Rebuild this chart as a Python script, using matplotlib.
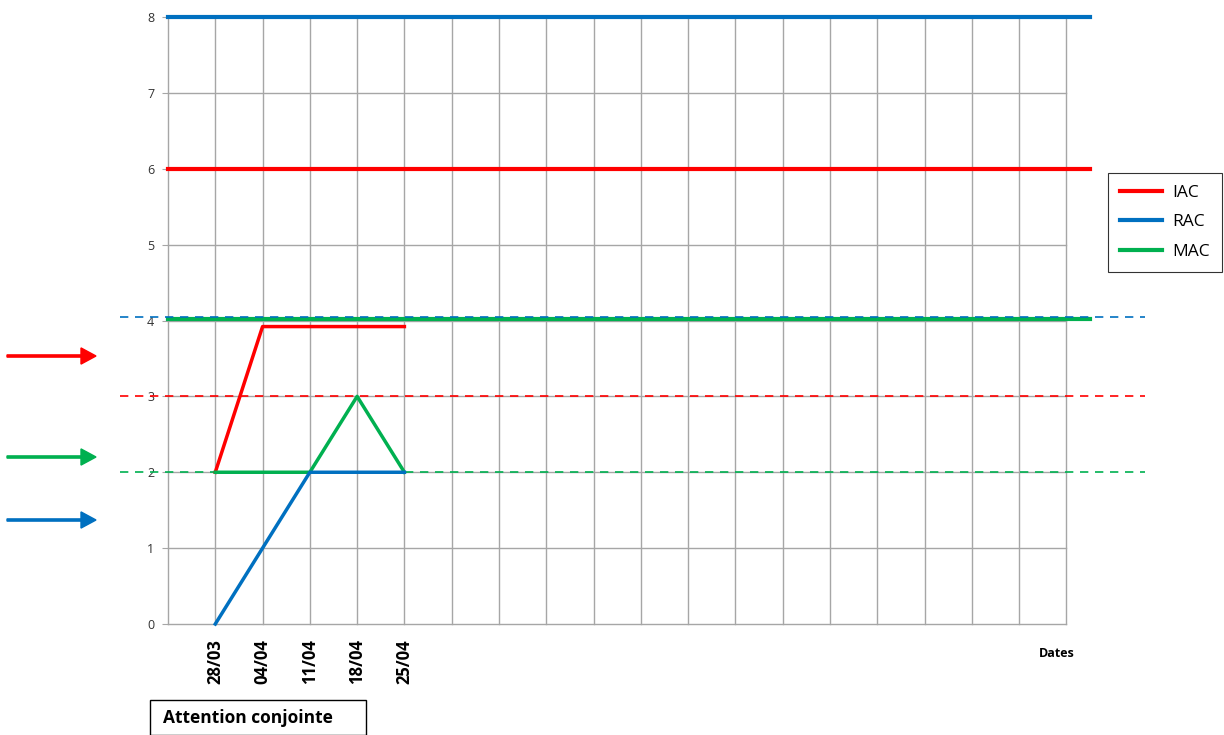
import numpy as np
import matplotlib.pyplot as plt
from matplotlib.patches import FancyArrow, Rectangle

dates = ['28/03', '04/04', '11/04', '18/04', '25/04']
iac = [2, 3.92, 3.92, 3.92, 3.92]
rac = [0, 1, 2, 2, 2]
mac = [2, 2, 2, 3, 2]

# reference levels (thick horizontal lines) and dashed targets
iac_level, rac_level, mac_level = 6, 8, 4.02
iac_target, rac_target, mac_target = 3, 4.05, 2

n_cols = 19
red, blue, green = '#ff0000', '#0070c0', '#00b050'

plt.rcParams['font.family'] = ['Open Sans', 'DejaVu Sans']

fig = plt.figure(figsize=(12.24, 7.35), dpi=100)
ax = fig.add_axes([168 / 1224, 1 - 624 / 735, (1090 - 168) / 1224, (624 - 17) / 735])
ax.set_xlim(0, 19.5)
ax.set_ylim(0, 8)
for s in ax.spines.values():
    s.set_visible(False)

# grid
for x in range(n_cols + 1):
    ax.plot([x, x], [0, 8], color='#a6a6a6', lw=1, zorder=1, clip_on=False)
for y in range(0, 8):
    ax.plot([0, n_cols], [y, y], color='#a6a6a6', lw=1, zorder=1, clip_on=False)

ax.set_yticks(range(9))
ax.set_yticklabels([str(i) for i in range(9)], fontsize=9, color='#333333')
ax.tick_params(axis='y', length=4, color='#a6a6a6', pad=6)
ax.set_xticks([])

# thick level lines
ax.plot([0, 19.5], [iac_level] * 2, color=red, lw=3, zorder=3, label='IAC', clip_on=False)
ax.plot([0, 19.5], [rac_level] * 2, color=blue, lw=3, zorder=3, label='RAC', clip_on=False)
ax.plot([0, 19.5], [mac_level] * 2, color=green, lw=3, zorder=3, label='MAC', clip_on=False)

# dashed targets
xd = [-1.02, 20.67]
ax.plot(xd, [rac_target] * 2, color=blue, lw=1.2, ls=(0, (5, 4)), clip_on=False, zorder=4)
ax.plot(xd, [iac_target] * 2, color=red, lw=1.2, ls=(0, (5, 4)), clip_on=False, zorder=4)
ax.plot(xd, [mac_target] * 2, color=green, lw=1.2, ls=(0, (5, 4)), clip_on=False, zorder=4)

# series
xs = np.arange(1, len(dates) + 1)
ax.plot(xs, iac, color=red, lw=2.5, zorder=5, clip_on=False)
ax.plot(xs, mac, color=green, lw=2.5, zorder=5, clip_on=False)
ax.plot(xs, rac, color=blue, lw=2.5, zorder=6, clip_on=False)

for x, d in zip(xs, dates):
    ax.text(x, -0.2, d, rotation=90, ha='center', va='top', fontsize=12,
            fontweight='bold', color='black')
ax.text(18.8, -0.3, 'Dates', ha='center', va='top', fontsize=9, fontweight='bold')

leg = fig.legend(loc='upper left', bbox_to_anchor=(1108 / 1224, 1 - 173 / 735),
                 borderaxespad=0, fontsize=12.5, frameon=True, fancybox=False,
                 edgecolor='black', handlelength=2.4, handletextpad=0.6,
                 borderpad=0.7, labelspacing=0.75)
leg.get_frame().set_linewidth(0.8)

# arrows on the left
for yy, c in [(356, red), (457, green), (520, blue)]:
    fig.patches.append(FancyArrow(
        7 / 1224, 1 - yy / 735, 74 / 1224, 0, width=0.003, head_width=0.022,
        head_length=15 / 1224, color=c, transform=fig.transFigure, length_includes_head=False))

fig.patches.append(Rectangle((150 / 1224, 0), 216 / 1224, 35 / 735, transform=fig.transFigure,
                             fc='white', ec='black', lw=1))
fig.text(163 / 1224, 1 - 718 / 735, 'Attention conjointe', fontsize=12.5, fontweight='bold',
         va='center', ha='left')

fig.savefig('out.png', dpi=100)
